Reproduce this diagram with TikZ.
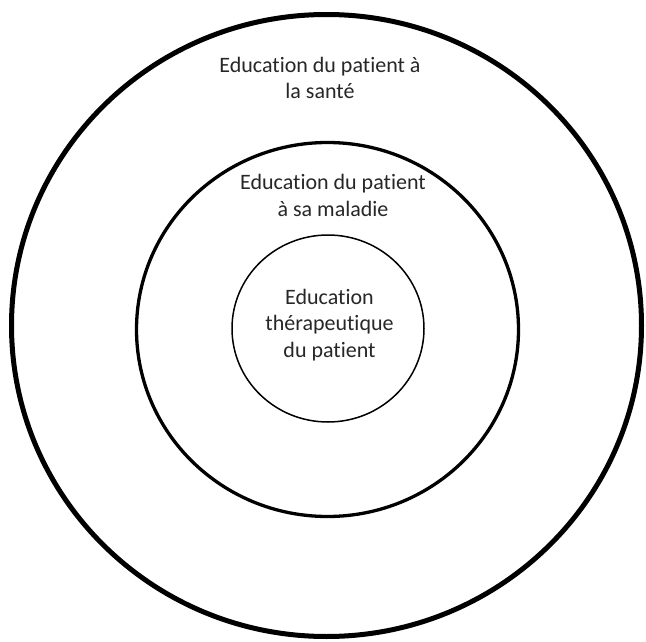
\documentclass[tikz,border=0pt]{standalone}
\usepackage{fontspec}
\setmainfont{Carlito}[Ligatures=NoCommon]
\usepackage{tikz}
\usepackage{xcolor}

\definecolor{texte}{RGB}{40,38,40}

\begin{document}
\begin{tikzpicture} [x=1pt, y=-1pt]
	\useasboundingbox (0, 0) rectangle (646, 642);
	\tikzset{etiquette/.style={align=center, text=texte, font=\fontsize{22}{26.5}\selectfont}}
		\draw [line width=5pt] (326.5, 325.5) ellipse [x radius=315, y radius=311];
		\draw [line width=3.3pt] (327.5, 329.5) ellipse [x radius=191, y radius=187];
		\draw [line width=1.5pt] (328, 328.5) ellipse [x radius=96, y radius=93.5];
			\node[etiquette] (sante) at (320, 78) {Education du patient à\\la santé};
			\node[etiquette] (maladie) at (333, 195.5) {Education du patient\\à sa maladie};
			\node[etiquette] (etp) at (329.5, 325) {Education\\thérapeutique\\du patient};
%	\draw[help lines, step = 50pt] (0, 0) grid (646, 642);
	\end{tikzpicture}
\end{document}
